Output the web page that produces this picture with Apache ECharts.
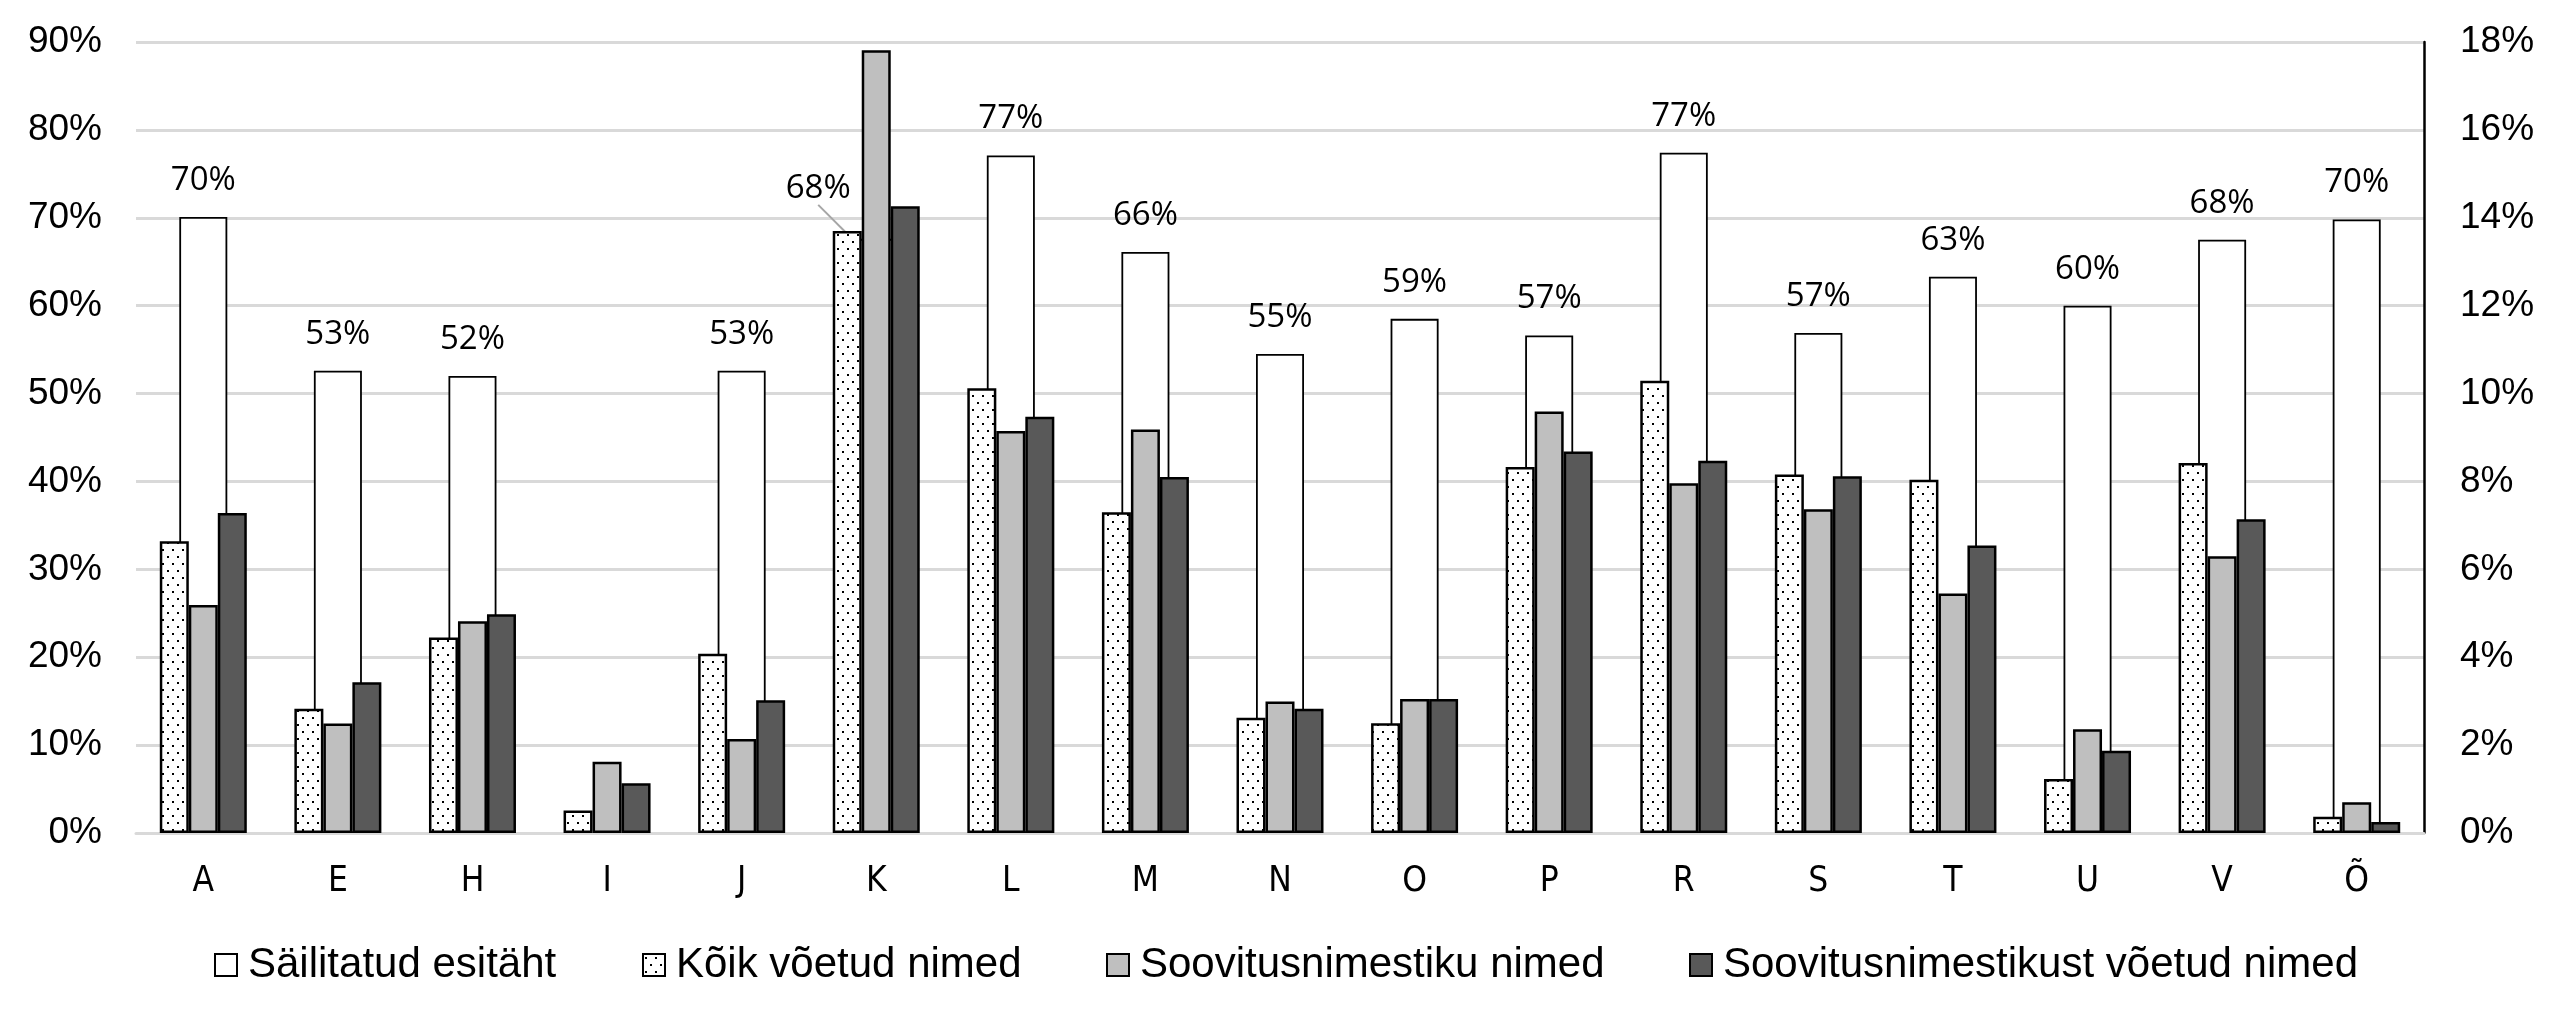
<!DOCTYPE html>
<html>
<head>
<meta charset="utf-8">
<script src="https://cdn.jsdelivr.net/npm/echarts@6/dist/echarts.min.js"></script>
<style>
html,body{margin:0;padding:0;background:#fff;}
#chart{width:2560px;height:1022px;}
</style>
</head>
<body>
<div id="chart"></div>
<script>
const categories = ['A','E','H','I','J','K','L','M','N','O','P','R','S','T','U','V','Õ'];
const seriesNames = ['Säilitatud esitäht','Kõik võetud nimed','Soovitusnimestiku nimed','Soovitusnimestikust võetud nimed'];
// left axis (%)
const sailitatud = [70.1, 52.6, 52.0, null, 52.6, 67.6, 77.1, 66.1, 54.5, 58.5, 56.6, 77.4, 56.9, 63.3, 60.0, 67.5, 69.8];
// right axis (%)
const koikVoetud = [6.64, 2.83, 4.45, 0.51, 4.08, 13.70, 10.12, 7.30, 2.62, 2.50, 8.33, 10.29, 8.16, 8.04, 1.23, 8.42, 0.37];
const soovitusNimed = [5.19, 2.49, 4.82, 1.62, 2.14, 17.81, 9.15, 9.18, 2.99, 3.05, 9.59, 7.96, 7.37, 5.45, 2.36, 6.30, 0.70];
const soovitusVoetud = [7.28, 3.43, 4.98, 1.13, 3.02, 14.26, 9.47, 8.10, 2.83, 3.05, 8.68, 8.47, 8.12, 6.54, 1.87, 7.14, 0.25];
const leftTicks = {min: 0, max: 90, interval: 10};
const rightTicks = {min: 0, max: 18, interval: 2};

// dotted pattern
const pc = document.createElement('canvas');
pc.width = 10; pc.height = 14;
const g = pc.getContext('2d');
g.fillStyle = '#ffffff'; g.fillRect(0,0,10,14);
g.fillStyle = '#000000';
g.fillRect(2,3,2,2);
g.fillRect(7,10,2,2);

const chart = echarts.init(document.getElementById('chart'), null, {renderer:'canvas'});

const axisFont = {fontFamily:'Liberation Sans, Arial, sans-serif', fontSize:37, color:'#000'};
const legendText = {fontFamily:'Liberation Sans, Arial, sans-serif', fontSize:42, color:'#000', padding:[0,0,0,6]};

function legendAt(name, left){
  return {data:[{name:name, icon:'rect'}], left:left, top:944, padding:0, itemWidth:22, itemHeight:22, textStyle:legendText, selectedMode:false};
}

const whiteData = sailitatud.map((v,i)=> i===5 ? {value:v, labelLine:{show:true, lineStyle:{color:'#a6a6a6', width:2}}} : v);

chart.setOption({
  animation:false,
  backgroundColor:'#ffffff',
  grid:{left:136, right:136, top:42, bottom:189, containLabel:false},
  legend:[
    legendAt(seriesNames[0], 214),
    legendAt(seriesNames[1], 642),
    legendAt(seriesNames[2], 1106),
    legendAt(seriesNames[3], 1689)
  ],
  xAxis:[
    {type:'category', data:categories, axisTick:{show:false},
     axisLine:{show:true, lineStyle:{color:'#d9d9d9', width:3}},
     axisLabel:{fontFamily:'Liberation Sans Narrow, DejaVu Sans Condensed, sans-serif', fontSize:35, color:'#000', margin:31}},
    {type:'category', data:categories, show:false}
  ],
  yAxis:[
    {type:'value', min:leftTicks.min, max:leftTicks.max, interval:leftTicks.interval, position:'left',
     axisLine:{show:false}, axisTick:{show:false},
     axisLabel:Object.assign({formatter:'{value}%', margin:34}, axisFont),
     splitLine:{show:true, lineStyle:{color:'#d9d9d9', width:3}}},
    {type:'value', min:rightTicks.min, max:rightTicks.max, interval:rightTicks.interval, position:'right',
     axisLine:{show:true, lineStyle:{color:'#000', width:2.5}}, axisTick:{show:false},
     axisLabel:Object.assign({formatter:'{value}%', margin:36}, axisFont),
     splitLine:{show:false}}
  ],
  series:[
    {name:seriesNames[0], type:'bar', xAxisIndex:1, yAxisIndex:0, data:whiteData, barWidth:48, z:1,
     itemStyle:{color:'#ffffff', borderColor:'#000', borderWidth:1.8},
     label:{show:true, position:'top', distance:20, fontFamily:'Open Sans, DejaVu Sans, sans-serif', fontSize:33, color:'#000',
            formatter:p=> p.value==null ? '' : Math.round(p.value)+'%'},
     labelLayout:function(p){ if(p.dataIndex===5){ return {dx:-58, dy:-14}; } return {}; }
    },
    {name:seriesNames[1], type:'bar', xAxisIndex:0, yAxisIndex:1, data:koikVoetud, barWidth:29, barGap:'0%', z:2,
     itemStyle:{color:{image:pc, repeat:'repeat'}, borderColor:'#000', borderWidth:2.5}},
    {name:seriesNames[2], type:'bar', xAxisIndex:0, yAxisIndex:1, data:soovitusNimed, barWidth:29, barGap:'0%', z:2,
     itemStyle:{color:'#bfbfbf', borderColor:'#000', borderWidth:2.5}},
    {name:seriesNames[3], type:'bar', xAxisIndex:0, yAxisIndex:1, data:soovitusVoetud, barWidth:29, barGap:'0%', z:2,
     itemStyle:{color:'#595959', borderColor:'#000', borderWidth:2.5}}
  ]
});
</script>
</body>
</html>
